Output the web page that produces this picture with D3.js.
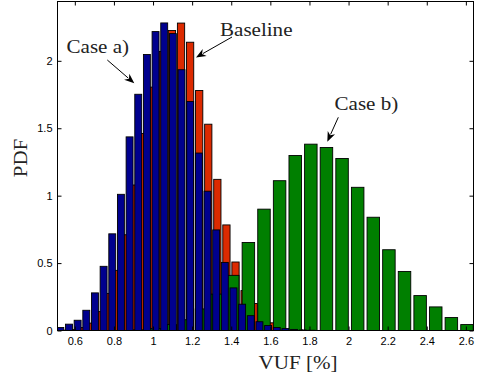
<!DOCTYPE html>
<html>
<head>
<meta charset="utf-8">
<script src="https://cdn.jsdelivr.net/npm/d3@7/dist/d3.min.js"></script>
<style>
  html, body { margin: 0; padding: 0; background: #fff; }
  svg { display: block; }
  .tick text { font-family: "Liberation Sans", Arial, sans-serif; font-size: 11px; fill: #000; }
  .tick line { stroke: #000; }
  .serif { font-family: "Liberation Serif", "Times New Roman", serif; fill: #222; }
</style>
</head>
<body>
<svg id="chart" width="480" height="380"></svg>
<script>
// Histogram bins (PDF estimates) of the voltage unbalance factor, in %.
// Each series uses uniform bins: first bin centre and bin width.
const baselineStart = 0.5396, baselineWidth = 0.04643;
const baselinePdf = [0.003, 0.008, 0.022, 0.055, 0.14, 0.275, 0.446, 0.71, 1.079, 1.461,
  1.805, 2.07, 2.225, 2.28, 2.138, 1.78, 1.53, 1.121, 0.783, 0.508,
  0.296, 0.2, 0.11, 0.057, 0.025, 0.01, 0.004];

const caseBStart = 0.9286, caseBWidth = 0.07986;
const caseBPdf = [0.005, 0.015, 0.044, 0.08, 0.16, 0.27, 0.409, 0.653, 0.9, 1.111,
  1.298, 1.382, 1.357, 1.276, 1.062, 0.84, 0.599, 0.438, 0.259, 0.175,
  0.096, 0.044];

const caseAStart = 0.5258, caseAWidth = 0.04428;
const caseAPdf = [0.022, 0.047, 0.076, 0.15, 0.279, 0.476, 0.717, 1.01, 1.436, 1.752,
  2.047, 2.217, 2.281, 2.202, 1.934, 1.698, 1.316, 1.033, 0.746, 0.505,
  0.316, 0.195, 0.11, 0.065, 0.037, 0.022, 0.014, 0.008, 0.004, 0.002];

const xTicks = [0.6, 0.8, 1, 1.2, 1.4, 1.6, 1.8, 2, 2.2, 2.4, 2.6];
const yTicks = [0, 0.5, 1, 1.5, 2];

const svg = d3.select("#chart");
const L = 57.5, R = 473.5, T = 1.5, B = 330.5;

const x = d3.scaleLinear().domain([0.5114, 2.639]).range([L, R]);
const y = d3.scaleLinear().domain([0, 2.44]).range([B, T]);

svg.append("defs").append("clipPath").attr("id", "plotclip")
  .append("rect").attr("x", L).attr("y", T).attr("width", R - L).attr("height", B - T);

const plot = svg.append("g").attr("clip-path", "url(#plotclip)");

function drawBars(start, width, values, fill) {
  const data = values.map((v, i) => ({ c: start + i * width, v }));
  plot.append("g").selectAll("rect").data(data).join("rect")
    .attr("x", d => x(d.c - 0.4 * width))
    .attr("width", d => x(d.c + 0.4 * width) - x(d.c - 0.4 * width))
    .attr("y", d => y(d.v))
    .attr("height", d => y(0) - y(d.v))
    .attr("fill", fill)
    .attr("stroke", "#000")
    .attr("stroke-width", 0.9);
}

drawBars(baselineStart, baselineWidth, baselinePdf, "#dc2a00");
drawBars(caseBStart, caseBWidth, caseBPdf, "#007f00");
drawBars(caseAStart, caseAWidth, caseAPdf, "#00008e");

// Axes with inward ticks on all four sides
svg.append("g").attr("transform", `translate(0,${B})`)
  .call(d3.axisBottom(x).tickValues(xTicks).tickSizeInner(-4).tickSizeOuter(0).tickPadding(7)
    .tickFormat(d3.format("")))
  .call(g => g.select(".domain").remove());
svg.append("g").attr("transform", `translate(0,${T})`)
  .call(d3.axisTop(x).tickValues(xTicks).tickSizeInner(-4).tickSizeOuter(0).tickFormat(""))
  .call(g => g.select(".domain").remove());
svg.append("g").attr("transform", `translate(${L},0)`)
  .call(d3.axisLeft(y).tickValues(yTicks).tickSizeInner(-4).tickSizeOuter(0).tickPadding(5)
    .tickFormat(d3.format("")))
  .call(g => g.select(".domain").remove());
svg.append("g").attr("transform", `translate(${R},0)`)
  .call(d3.axisRight(y).tickValues(yTicks).tickSizeInner(-4).tickSizeOuter(0).tickFormat(""))
  .call(g => g.select(".domain").remove());

svg.append("rect").attr("x", L).attr("y", T).attr("width", R - L).attr("height", B - T)
  .attr("fill", "none").attr("stroke", "#000").attr("stroke-width", 1);

// Axis titles
svg.append("text").attr("class", "serif")
  .attr("transform", "translate(298,368.5) scale(1.08,1)")
  .attr("text-anchor", "middle").style("font-size", "19.5px").text("VUF [%]");
svg.append("text").attr("class", "serif")
  .attr("transform", "translate(26.5,158) rotate(-90) scale(1.08,1)")
  .attr("text-anchor", "middle").style("font-size", "19.5px").text("PDF");

// Annotations with arrows
const notes = [
  { label: "Case a)", tx: 66.5, ty: 52.5, x1: 107.3, y1: 60, x2: 134.3, y2: 83.3 },
  { label: "Baseline", tx: 220, ty: 36, x1: 232, y1: 37, x2: 196, y2: 57.5 },
  { label: "Case b)", tx: 334.5, ty: 109.5, x1: 338.3, y1: 117.3, x2: 327.3, y2: 141.7 }
];

notes.forEach(n => {
  svg.append("text").attr("class", "serif")
    .attr("transform", `translate(${n.tx},${n.ty}) scale(1.08,1)`)
    .style("font-size", "19.5px").text(n.label);
  const ang = Math.atan2(n.y2 - n.y1, n.x2 - n.x1);
  const hl = 10, hw = 4;
  const bx = n.x2 - hl * Math.cos(ang), by = n.y2 - hl * Math.sin(ang);
  svg.append("line")
    .attr("x1", n.x1).attr("y1", n.y1)
    .attr("x2", bx + 2 * Math.cos(ang)).attr("y2", by + 2 * Math.sin(ang))
    .attr("stroke", "#000").attr("stroke-width", 1);
  const px = -Math.sin(ang), py = Math.cos(ang);
  const nx = n.x2 - 0.7 * hl * Math.cos(ang), ny = n.y2 - 0.7 * hl * Math.sin(ang);
  svg.append("path")
    .attr("d", `M${n.x2},${n.y2} L${bx + hw * px},${by + hw * py} L${nx},${ny} L${bx - hw * px},${by - hw * py} Z`)
    .attr("fill", "#000");
});
</script>
</body>
</html>
